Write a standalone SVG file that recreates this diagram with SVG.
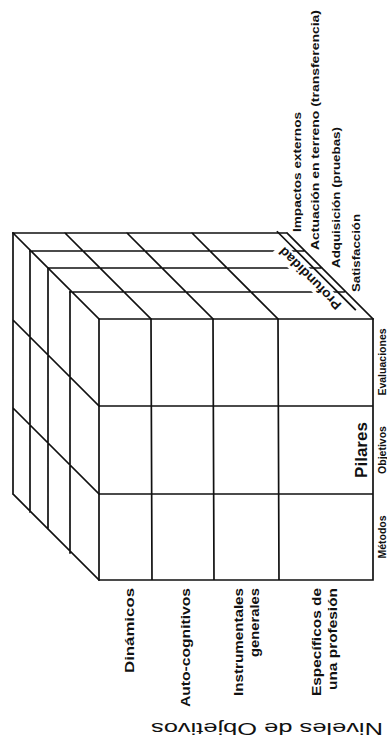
<svg xmlns="http://www.w3.org/2000/svg" width="387" height="749" viewBox="0 0 387 749">
<style>
.ln{stroke:#111;stroke-width:1.7;fill:none;stroke-linecap:square}
.t{font-family:"Liberation Sans","DejaVu Sans",Arial,sans-serif;font-weight:bold;fill:#111}
.s10{font-size:10.5px}
.s11{font-size:11px}
.s13{font-size:13px}
</style>
<rect width="387" height="749" fill="#fff"/>
<g id="cube">
  <g id="front-face">
    <path class="ln" d="M99,319V580 M151,319L152,580 M213,319L214,580 M278,319L279,580 M373,319V580 M99,319H373 M99,406H373 M99,494H373 M99,580H373"/>
  </g>
  <g id="top-face">
    <path class="ln" d="M70,292H344 M48,268H322 M30,251H304 M13,233H287 M99,319L13,233 M151,319L65,233 M213,319L127,233 M278,319L192,233 M373,319L287,233"/>
  </g>
  <g id="left-face">
    <path class="ln" d="M70,292V553 M48,268V529 M30,251V512 M13,233V494 M99,406L13,320 M99,494L13,408 M99,580L13,494"/>
  </g>
</g>
<g id="profundidad" transform="translate(310,278.5) rotate(225)">
  <rect x="-45" y="-8" width="90" height="15" fill="#fff"/>
  <line class="ln" x1="-54" y1="10" x2="56" y2="10"/>
  <text class="t s13" x="0" y="4.5" text-anchor="middle" textLength="82" lengthAdjust="spacingAndGlyphs">Profundidad</text>
</g>
<g id="depth-labels">
  <text class="t s11" transform="translate(301,232) rotate(-90)" textLength="120" lengthAdjust="spacingAndGlyphs">Impactos externos</text>
  <text class="t s11" transform="translate(319,250) rotate(-90)" textLength="240" lengthAdjust="spacingAndGlyphs">Actuación en terreno (transferencia)</text>
  <text class="t s11" transform="translate(340,268) rotate(-90)" textLength="141" lengthAdjust="spacingAndGlyphs">Adquisición (pruebas)</text>
  <text class="t s11" transform="translate(360,292) rotate(-90)" textLength="78" lengthAdjust="spacingAndGlyphs">Satisfacción</text>
</g>
<g id="pilares-labels">
  <text class="t" font-size="17" transform="translate(367,450) rotate(-90)" text-anchor="middle">Pilares</text>
  <text class="t s10" transform="translate(386,362) rotate(-90)" text-anchor="middle">Evaluaciones</text>
  <text class="t s10" transform="translate(386,450) rotate(-90)" text-anchor="middle">Objetivos</text>
  <text class="t s10" transform="translate(386,537) rotate(-90)" text-anchor="middle">Métodos</text>
</g>
<g id="nivel-labels" class="t s13" text-anchor="end">
  <text transform="translate(134,588) rotate(-90)" textLength="85" lengthAdjust="spacingAndGlyphs">Dinámicos</text>
  <text transform="translate(190,588) rotate(-90)" textLength="119" lengthAdjust="spacingAndGlyphs">Auto-cognitivos</text>
  <text transform="translate(243,588) rotate(-90)" textLength="108" lengthAdjust="spacingAndGlyphs">Instrumentales</text>
  <text transform="translate(259,588) rotate(-90)" textLength="69" lengthAdjust="spacingAndGlyphs">generales</text>
  <text transform="translate(321,588) rotate(-90)" textLength="108" lengthAdjust="spacingAndGlyphs">Específicos de</text>
  <text transform="translate(337,588) rotate(-90)" textLength="102" lengthAdjust="spacingAndGlyphs">una profesión</text>
</g>
<text id="niveles-title" transform="translate(267,723) rotate(180)" text-anchor="middle" font-family="Liberation Sans, Arial, sans-serif" font-size="17" fill="#111" textLength="232" lengthAdjust="spacingAndGlyphs">Niveles de Objetivos</text>
</svg>
